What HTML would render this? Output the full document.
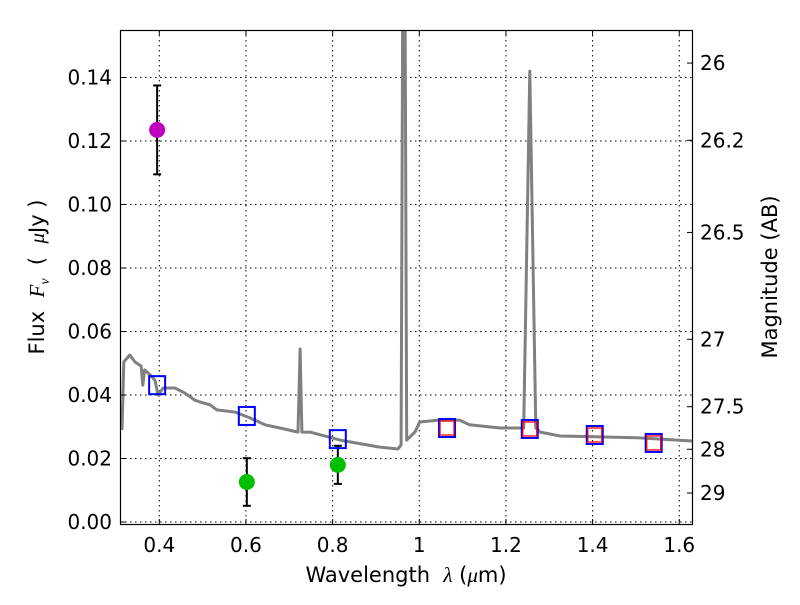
<!DOCTYPE html>
<html><head><meta charset="utf-8">
<style>
html,body{margin:0;padding:0;background:#fff;}
svg text{font-family:"DejaVu Sans","Liberation Sans",sans-serif;fill:#000;}
</style></head>
<body>
<svg id="chart" width="800" height="600" viewBox="0 0 800 600" xmlns="http://www.w3.org/2000/svg">
<rect x="0" y="0" width="800" height="600" fill="#fff"/>
<g id="grid"></g>
<g id="marks"></g>
<rect x="120.5" y="30.5" width="572" height="494" fill="none" stroke="#000" stroke-width="1.2"/>
<g id="axes"></g>
<text x="406" y="582" font-size="21" text-anchor="middle">Wavelength&#160;&#160;<tspan font-style="italic" font-family="Liberation Serif">λ</tspan> (<tspan font-style="italic" font-family="Liberation Serif">μ</tspan>m)</text>
<text transform="translate(44,277) rotate(-90)" font-size="21" text-anchor="middle">Flux&#160;&#160;<tspan font-style="italic" font-family="Liberation Serif">F</tspan><tspan font-style="italic" font-family="Liberation Serif" font-size="14" dy="5">ν</tspan><tspan dy="-5">&#160;&#160;(&#160;&#160;</tspan><tspan font-style="italic" font-family="Liberation Serif">μ</tspan>Jy )</text>
<text transform="translate(777,277) rotate(-90)" font-size="21" text-anchor="middle">Magnitude (AB)</text>
</svg>
<script>
const xTicks=[0.4,0.6,0.8,1.0,1.2,1.4,1.6];
const xTickLabels=["0.4","0.6","0.8","1","1.2","1.4","1.6"];
const yTicks=[0,0.02,0.04,0.06,0.08,0.10,0.12,0.14];
const yTickLabels=["0.00","0.02","0.04","0.06","0.08","0.10","0.12","0.14"];
const magTicks=[26,26.2,26.5,27,27.5,28,29];
const magTickLabels=["26","26.2","26.5","27","27.5","28","29"];
const specLam=[0.314,0.318,0.332,0.344,0.358,0.362,0.366,0.379,0.390,0.397,0.409,0.436,0.459,0.482,0.494,0.517,0.533,0.575,0.609,0.644,0.678,0.720,0.725,0.729,0.748,0.817,0.909,0.951,0.958,0.962,0.967,0.971,0.990,1.001,1.024,1.047,1.093,1.116,1.186,1.241,1.255,1.269,1.279,1.325,1.417,1.509,1.629];
const specFlux=[0.029,0.0504,0.0526,0.0504,0.0491,0.0431,0.0479,0.0463,0.0447,0.040,0.0422,0.0422,0.0406,0.0384,0.0378,0.0369,0.0353,0.0346,0.0328,0.0306,0.0296,0.0283,0.0545,0.0283,0.0283,0.0258,0.0236,0.023,0.0243,0.17,0.17,0.0258,0.0283,0.0315,0.0318,0.0321,0.0321,0.0306,0.0296,0.0296,0.142,0.0296,0.0283,0.0271,0.0268,0.0265,0.0255];
const blueLam=[0.395,0.602,0.812,1.064,1.255,1.405,1.541];
const blueFlux=[0.0431,0.0334,0.0261,0.0296,0.0293,0.0274,0.0249];
const redLam=[1.064,1.255,1.405,1.541];
const redFlux=[0.0296,0.0293,0.0274,0.0249];
const greenLam=[0.602,0.812];
const greenFlux=[0.0126,0.018];
const greenErr=[0.0075,0.006];
const purpleLam=[0.395];
const purpleFlux=[0.1235];
const purpleErr=[0.014];

const NS="http://www.w3.org/2000/svg";
const X=v=>159.3+(v-0.4)*433.3;
const Y=v=>522-v*3175;
const L=120,R=692,T=30,B=524;
function mk(tag,attrs,parent){const e=document.createElementNS(NS,tag);for(const k in attrs)e.setAttribute(k,attrs[k]);parent.appendChild(e);return e;}
const grid=document.getElementById('grid'),marks=document.getElementById('marks'),axes=document.getElementById('axes');
xTicks.forEach((v,i)=>{
  const x=X(v);
  let g=mk('line',{x1:x,x2:x,y1:T,y2:B,stroke:'#000','stroke-width':1,'stroke-dasharray':'1.5,3.5'},grid);
  
  
  let t1=mk('line',{x1:x,x2:x,y1:B,y2:B-5,stroke:'#000'},axes);
  
  
  mk('line',{x1:x,x2:x,y1:T,y2:T+5,stroke:'#000'},axes);
  let t=mk('text',{x:x,y:552,'font-size':20,'text-anchor':'middle'},axes);t.textContent=xTickLabels[i];
  
  
});
yTicks.forEach((v,i)=>{
  const y=Y(v);
  let g=mk('line',{x1:L,x2:R,y1:y,y2:y,stroke:'#000','stroke-width':1,'stroke-dasharray':'1.5,3.5'},grid);
  
  
  let tk=mk('line',{x1:L,x2:L+5,y1:y,y2:y,stroke:'#000'},axes);
  
  
  let t=mk('text',{x:112,y:y+7,'font-size':20,'text-anchor':'end'},axes);t.textContent=yTickLabels[i];
  
  
});
magTicks.forEach((m,i)=>{
  const y=Y(Math.pow(10,(23.9-m)/2.5));
  let tk=mk('line',{x1:R-5,x2:R,y1:y,y2:y,stroke:'#000'},axes);
  
  
  let t=mk('text',{x:700,y:y+7,'font-size':20},axes);t.textContent=magTickLabels[i];
  
  
});
const defs=mk('defs',{},document.getElementById('chart'));
const cp=mk('clipPath',{id:'clip'},defs);mk('rect',{x:L,y:T,width:R-L,height:B-T},cp);
marks.setAttribute('clip-path','url(#clip)');
let d=specLam.map((l,i)=>(i?'L':'M')+X(l).toFixed(1)+','+Y(specFlux[i]).toFixed(1)).join(' ');
let sp=mk('path',{d:d,fill:'none',stroke:'#808080','stroke-width':3,'stroke-linejoin':'round'},marks);


function errBars(lam,flux,err,name){
  lam.forEach((l,i)=>{
    const x=X(l),y1=Y(flux[i]-err[i]),y2=Y(flux[i]+err[i]);
    const g=mk('g',{stroke:'#000','stroke-width':2},marks);
    
    
    mk('line',{x1:x,x2:x,y1:y1,y2:y2},g);
    mk('line',{x1:x-4,x2:x+4,y1:y1,y2:y1},g);
    mk('line',{x1:x-4,x2:x+4,y1:y2,y2:y2},g);
  });
}
errBars(greenLam,greenFlux,greenErr,'green-error-bar');
errBars(purpleLam,purpleFlux,purpleErr,'purple-error-bar');
greenLam.forEach((l,i)=>{
  const c=mk('circle',{cx:X(l),cy:Y(greenFlux[i]),r:8,fill:'#00bf00'},marks);
  
  
});
purpleLam.forEach((l,i)=>{
  const c=mk('circle',{cx:X(l),cy:Y(purpleFlux[i]),r:8,fill:'#bf00bf'},marks);
  
  
});
blueLam.forEach((l,i)=>{
  const r=mk('rect',{x:X(l)-8,y:Y(blueFlux[i])-9,width:16,height:18,fill:'none',stroke:'#0000ff','stroke-width':2},marks);
  
  
});
redLam.forEach((l,i)=>{
  const r=mk('rect',{x:X(l)-7,y:Y(redFlux[i])-7,width:14,height:14,fill:'none',stroke:'#ff0000','stroke-width':1.3},marks);
  
  
});
</script>
</body></html>
